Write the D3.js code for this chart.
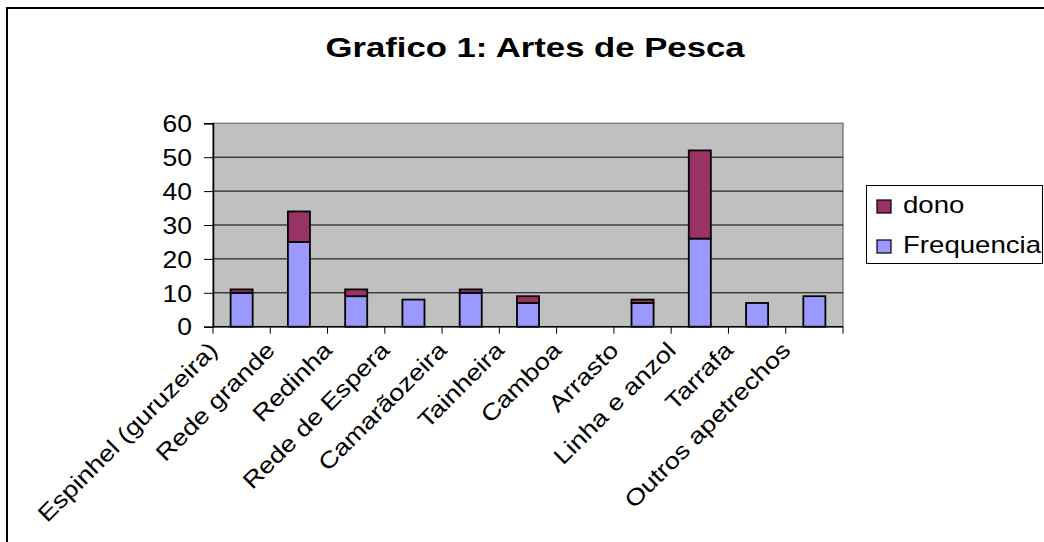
<!DOCTYPE html>
<html><head><meta charset="utf-8">
<script src="https://cdn.jsdelivr.net/npm/d3@7"></script>
<style>body{margin:0;background:#fff}svg{display:block}text{font-family:"Liberation Sans",Arial,sans-serif;fill:#000}</style>
</head><body>
<svg id="c" width="1044" height="542"></svg>
<script>
const categories = ["Espinhel (guruzeira)","Rede grande","Redinha","Rede de Espera","Camarãozeira","Tainheira","Camboa","Arrasto","Linha e anzol","Tarrafa","Outros apetrechos"];
const frequencia = [10,25,9,8,10,7,0,7,26,7,9];
const dono = [1,9,2,0,1,2,0,1,26,0,0];
const yTicks = [0,10,20,30,40,50,60];
const seriesNames = ["Frequencia","dono"];
const colors = {Frequencia:"#9999FF", dono:"#993366"};
const title = "Grafico 1: Artes de Pesca";

const svg = d3.select("#c");
const SX = 1.18; // wide glyph rendering
svg.append("rect").attr("x",7).attr("y",8).attr("width",1060).attr("height",560)
  .attr("fill","#fff").attr("stroke","#000").attr("stroke-width",2);

const L=213, R=843, T=123.3, B=326.7;
const x = d3.scaleBand().domain(categories).range([L,R]).paddingInner(0.615).paddingOuter(0.3075);
const y = d3.scaleLinear().domain([0,60]).range([B,T]);
const step = x.step();

svg.append("rect").attr("x",L).attr("y",T).attr("width",R-L).attr("height",B-T)
  .attr("fill","#C0C0C0").attr("stroke","#808080").attr("stroke-width",1.5);

svg.append("g").selectAll("line").data(yTicks.filter(d=>d>0&&d<60)).join("line")
  .attr("x1",L).attr("x2",R).attr("y1",d=>y(d)).attr("y2",d=>y(d))
  .attr("stroke","#000").attr("stroke-width",1);

const rows = categories.map((c,i)=>({cat:c, Frequencia:frequencia[i], dono:dono[i]}));
const stack = d3.stack().keys(seriesNames)(rows);
svg.append("g").selectAll("g").data(stack).join("g")
  .attr("fill",s=>colors[s.key])
  .selectAll("rect").data(s=>s.filter(d=>d[1]-d[0]>0)).join("rect")
  .attr("x",d=>x(d.data.cat)).attr("width",x.bandwidth())
  .attr("y",d=>y(d[1])).attr("height",d=>y(d[0])-y(d[1]))
  .attr("stroke","#000").attr("stroke-width",1.8);

// y axis
const ya = svg.append("g").attr("transform",`translate(${L},0)`)
  .call(d3.axisLeft(y).tickValues(yTicks).tickSize(9).tickPadding(10));
ya.select(".domain").attr("stroke","#000").attr("stroke-width",1.5);
ya.selectAll(".tick line").attr("stroke","#000");
ya.selectAll(".tick text").attr("font-size",23).attr("fill","#000").attr("dy","0.36em")
  .attr("transform",`scale(1.15 1)`).attr("x",-21/1.15);

// x axis
const xb = d3.range(categories.length+1).map(i=>L+i*step);
svg.append("line").attr("x1",L).attr("x2",R).attr("y1",B).attr("y2",B).attr("stroke","#000").attr("stroke-width",1.5);
svg.append("g").selectAll("line").data(xb).join("line")
  .attr("x1",d=>d).attr("x2",d=>d).attr("y1",B).attr("y2",B+7).attr("stroke","#000");
svg.append("g").selectAll("text").data(categories).join("text")
  .attr("transform",(d,i)=>`translate(${xb[i]+6},${B+25}) rotate(-45) scale(${SX},1)`)
  .attr("text-anchor","end").attr("font-size",23).text(d=>d);

// title
svg.append("text").attr("transform",`translate(535,57) scale(1.24,1)`).attr("text-anchor","middle")
  .attr("font-size",28).attr("font-weight","bold").text(title);

// legend
const lg = svg.append("g");
lg.append("rect").attr("x",866.5).attr("y",185.5).attr("width",176).attr("height",78)
  .attr("fill","#fff").attr("stroke","#000").attr("stroke-width",1);
const legendItems = ["dono","Frequencia"];
legendItems.forEach((k,i)=>{
  const yy = 200 + i*40;
  lg.append("rect").attr("x",877).attr("y",yy).attr("width",14).attr("height",13)
    .attr("fill",colors[k]).attr("stroke","#000").attr("stroke-width",1.2);
  lg.append("text").attr("transform",`translate(903,${yy+13}) scale(1.2,1)`).attr("font-size",23).text(k);
});
</script>
</body></html>
